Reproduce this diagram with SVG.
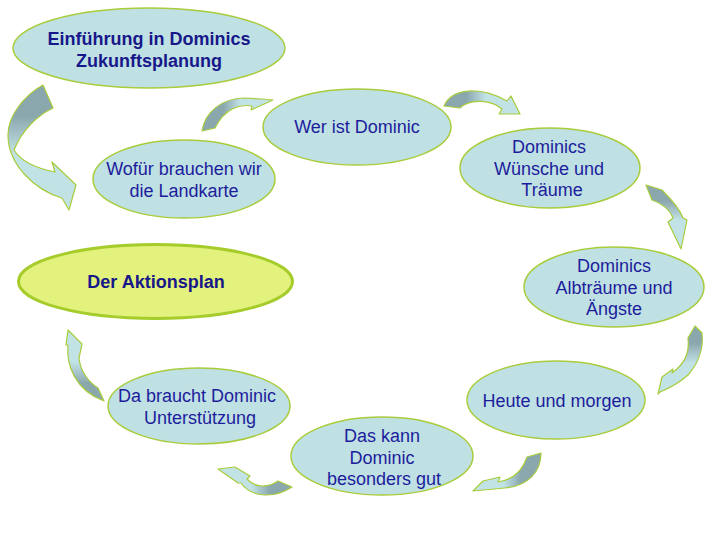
<svg xmlns="http://www.w3.org/2000/svg" width="720" height="540" viewBox="0 0 720 540">
<defs>
<style>
.n{fill:#bfe1e4;stroke:#a8cc3c;stroke-width:1.5}
.a{fill:#e2f27c;stroke:#a6cc2c;stroke-width:3}
.t{font-family:"Liberation Sans",Arial,sans-serif;font-size:18px;fill:#1d1d9c;text-anchor:middle}
.b{font-weight:bold;fill:#17178a}
.arr{stroke:#a8cc3c;stroke-width:1.2;stroke-linejoin:round}
</style>
<linearGradient id="gV" x1="0" y1="0" x2="0" y2="1"><stop offset="0.25" stop-color="#8ba7ae"/><stop offset="0.55" stop-color="#c2e3e6"/></linearGradient>
<linearGradient id="gH" x1="0" y1="0" x2="1" y2="0"><stop offset="0.3" stop-color="#8ba7ae"/><stop offset="0.55" stop-color="#c2e3e6"/></linearGradient>
<linearGradient id="gHr" x1="1" y1="0" x2="0" y2="0"><stop offset="0.3" stop-color="#8ba7ae"/><stop offset="0.55" stop-color="#c2e3e6"/></linearGradient>
<linearGradient id="gVr" x1="0" y1="1" x2="0" y2="0"><stop offset="0.25" stop-color="#8ba7ae"/><stop offset="0.55" stop-color="#c2e3e6"/></linearGradient>
</defs>
<rect width="720" height="540" fill="#ffffff"/>
<g id="connectors">
<path class="arr" fill="url(#gV)" d="M43,85 C25,95 8,115 8,135 C8,165 35,190 62,198 L69,210 L76,185 L52,162 L55,172 C35,168 20,160 14,150 C22,130 38,115 53,108 Z"/>
<path class="arr" fill="url(#gH)" d="M202,131 C205,112 222,98 245,98 L262,99 L273,100 L251,110 L252,106 C240,104 225,108 215,128 Z"/>
<path class="arr" fill="url(#gH)" d="M444,106 C452,88 480,86 507,101 L511,96 L520,114 L499,114 L502,109 C492,100 470,98 460,108 Z"/>
<path class="arr" fill="url(#gV)" d="M646,185 L662,190 C672,200 680,210 683,218 L687,220 L681,249 L668,222 L673,218 C670,210 662,203 652,200 Z"/>
<path class="arr" fill="url(#gV)" d="M695,326 L702,333 C704,350 697,365 688,375 C680,382 670,388 660,392 L658,394 L662,377 L673,369 L672,373 C683,365 690,355 688,338 Z"/>
<path class="arr" fill="url(#gHr)" d="M527,457 L541,453 C541,472 528,486 505,488 L473,491 L483,481 L500,477 L498,482 C512,480 522,472 527,457 Z"/>
<path class="arr" fill="url(#gHr)" d="M292,487 L278,481 C268,488 255,488 247,479 L250,476 L235,467 L218,469 L238,483 L241,483 C250,496 272,500 292,487 Z"/>
<path class="arr" fill="url(#gVr)" d="M104,401 L98,388 C88,382 80,370 79,358 L82,344 L68,330 L66,345 L68,345 C66,365 75,390 104,401 Z"/>
</g>
<g id="n1"><ellipse class="n" cx="149" cy="48" rx="136" ry="40"/><text class="t b" x="149" y="45">Einführung in Dominics</text><text class="t b" x="149" y="67">Zukunftsplanung</text></g>
<g id="n2"><ellipse class="n" cx="184" cy="179" rx="91" ry="39"/><text class="t" x="184" y="175">Wofür brauchen wir</text><text class="t" x="184" y="197">die Landkarte</text></g>
<g id="n3"><ellipse class="n" cx="357" cy="127" rx="94" ry="38"/><text class="t" x="357" y="133">Wer ist Dominic</text></g>
<g id="n4"><ellipse class="n" cx="550" cy="168" rx="90" ry="40"/><text class="t" x="549" y="153">Dominics</text><text class="t" x="549" y="175">Wünsche und</text><text class="t" x="552" y="196">Träume</text></g>
<g id="n5"><ellipse class="n" cx="614" cy="287" rx="90" ry="40"/><text class="t" x="614" y="272">Dominics</text><text class="t" x="614" y="294">Albträume und</text><text class="t" x="614" y="315">Ängste</text></g>
<g id="n6"><ellipse class="n" cx="556" cy="400" rx="89" ry="39"/><text class="t" x="557" y="407">Heute und morgen</text></g>
<g id="n7"><ellipse class="n" cx="382" cy="456" rx="91" ry="39"/><text class="t" x="382" y="442">Das kann</text><text class="t" x="382" y="464">Dominic</text><text class="t" x="384" y="485">besonders gut</text></g>
<g id="n8"><ellipse class="n" cx="199" cy="406" rx="91" ry="38"/><text class="t" x="197" y="402">Da braucht Dominic</text><text class="t" x="200" y="424">Unterstützung</text></g>
<g id="n9"><ellipse class="a" cx="155.5" cy="281.5" rx="137" ry="37"/><text class="t b" x="156" y="288">Der Aktionsplan</text></g>
</svg>
